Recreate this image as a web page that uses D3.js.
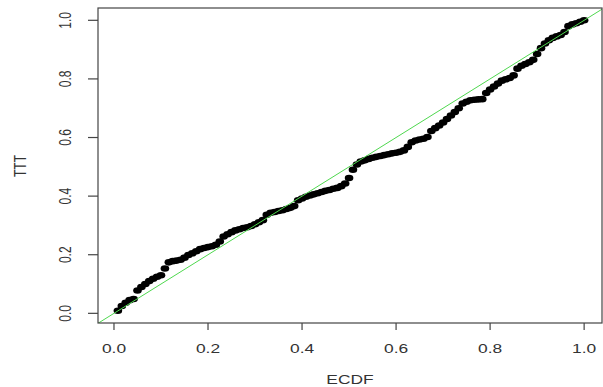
<!DOCTYPE html>
<html><head><meta charset="utf-8">
<script src="https://cdn.jsdelivr.net/npm/d3@7"></script>
<style>html,body{margin:0;padding:0;background:#fff;}svg{display:block;}</style>
</head><body>
<svg id="c" width="603" height="387"></svg>
<script>
const ecdf = [0.0083,0.0167,0.025,0.0333,0.0417,0.05,0.0583,0.0667,0.075,0.0833,0.0917,0.10,0.1083,0.1167,0.125,0.1333,0.1417,0.15,0.1583,0.1667,0.175,0.1833,0.1917,0.20,0.2083,0.2167,0.225,0.2333,0.2417,0.25,0.2583,0.2667,0.275,0.2833,0.2917,0.30,0.3083,0.3167,0.325,0.3333,0.3417,0.35,0.3583,0.3667,0.375,0.3833,0.3917,0.40,0.4083,0.4167,0.425,0.4333,0.4417,0.45,0.4583,0.4667,0.475,0.4833,0.4917,0.50,0.5083,0.5167,0.525,0.5333,0.5417,0.55,0.5583,0.5667,0.575,0.5833,0.5917,0.60,0.6083,0.6167,0.625,0.6333,0.6417,0.65,0.6583,0.6667,0.675,0.6833,0.6917,0.70,0.7083,0.7167,0.725,0.7333,0.7417,0.75,0.7583,0.7667,0.775,0.7833,0.7917,0.80,0.8083,0.8167,0.825,0.8333,0.8417,0.85,0.8583,0.8667,0.875,0.8833,0.8917,0.90,0.9083,0.9167,0.925,0.9333,0.9417,0.95,0.9583,0.9667,0.975,0.9833,0.9917,1.0];
const ttt = [0.009,0.025,0.036,0.045,0.049,0.078,0.090,0.100,0.110,0.118,0.125,0.130,0.153,0.174,0.178,0.180,0.183,0.190,0.199,0.205,0.212,0.219,0.223,0.226,0.229,0.234,0.245,0.262,0.270,0.277,0.283,0.287,0.291,0.294,0.298,0.304,0.311,0.318,0.336,0.343,0.346,0.349,0.352,0.356,0.360,0.366,0.386,0.392,0.398,0.402,0.406,0.410,0.414,0.418,0.421,0.425,0.428,0.434,0.443,0.462,0.490,0.508,0.518,0.522,0.527,0.531,0.534,0.537,0.540,0.543,0.546,0.548,0.551,0.556,0.568,0.584,0.590,0.593,0.596,0.602,0.622,0.632,0.641,0.651,0.663,0.675,0.687,0.700,0.716,0.722,0.727,0.729,0.730,0.731,0.752,0.764,0.774,0.784,0.794,0.799,0.803,0.812,0.835,0.845,0.851,0.857,0.865,0.885,0.905,0.921,0.932,0.940,0.945,0.950,0.960,0.980,0.986,0.990,0.995,1.0];
const xTicks = [0,0.2,0.4,0.6,0.8,1.0];
const yTicks = [0,0.2,0.4,0.6,0.8,1.0];
const xTitle = "ECDF";
const yTitle = "TTT";

const svg = d3.select("#c");
const L=98, R=602, T=8, B=323;
const SX = 1.45;
const x = d3.scaleLinear().domain([-0.034,1.038]).range([L,R]);
const y = d3.scaleLinear().domain([-0.033,1.042]).range([B,T]);
const fmt = d3.format(".1f");

svg.append("clipPath").attr("id","clip").append("rect")
  .attr("x",L).attr("y",T).attr("width",R-L).attr("height",B-T);

// points
svg.append("g").selectAll("ellipse").data(ecdf.map((e,i)=>[e,ttt[i]])).join("ellipse")
  .attr("cx",d=>x(d[0])).attr("cy",d=>y(d[1])).attr("rx",4.3).attr("ry",3.3)
  .attr("fill","#000");

// diagonal
svg.append("line").attr("clip-path","url(#clip)")
  .attr("x1",x(-0.1)).attr("y1",y(-0.1)).attr("x2",x(1.2)).attr("y2",y(1.2))
  .attr("stroke","#4fd84f").attr("stroke-width",1);

// box
svg.append("rect").attr("x",L).attr("y",T).attr("width",R-L).attr("height",B-T)
  .attr("fill","none").attr("stroke","#444").attr("stroke-width",1.2);

// x axis
const gx = svg.append("g");
gx.selectAll("line").data(xTicks).join("line")
  .attr("x1",d=>x(d)).attr("x2",d=>x(d)).attr("y1",B).attr("y2",B+7)
  .attr("stroke","#444").attr("stroke-width",1.2);
gx.selectAll("text").data(xTicks).join("text")
  .attr("transform",d=>`translate(${x(d)},352.5) scale(${SX},1)`)
  .attr("text-anchor","middle").attr("font-family","Liberation Sans, Arial, sans-serif")
  .attr("font-size",12).attr("fill","#333").text(d=>fmt(d));

// y axis
const gy = svg.append("g");
gy.selectAll("line").data(yTicks).join("line")
  .attr("y1",d=>y(d)).attr("y2",d=>y(d)).attr("x1",L).attr("x2",L-10)
  .attr("stroke","#444").attr("stroke-width",1.2);
gy.selectAll("text").data(yTicks).join("text")
  .attr("transform",d=>`translate(71,${y(d)}) scale(${SX},1) rotate(-90)`)
  .attr("text-anchor","middle").attr("font-family","Liberation Sans, Arial, sans-serif")
  .attr("font-size",12).attr("fill","#333").text(d=>fmt(d));

// titles
svg.append("text").attr("transform",`translate(350,384) scale(${SX},1)`)
  .attr("text-anchor","middle").attr("font-family","Liberation Sans, Arial, sans-serif")
  .attr("font-size",12).attr("fill","#333").text(xTitle);
svg.append("text").attr("transform",`translate(26,166) scale(${SX},1) rotate(-90)`)
  .attr("text-anchor","middle").attr("font-family","Liberation Sans, Arial, sans-serif")
  .attr("font-size",12).attr("fill","#333").text(yTitle);
</script>
</body></html>
